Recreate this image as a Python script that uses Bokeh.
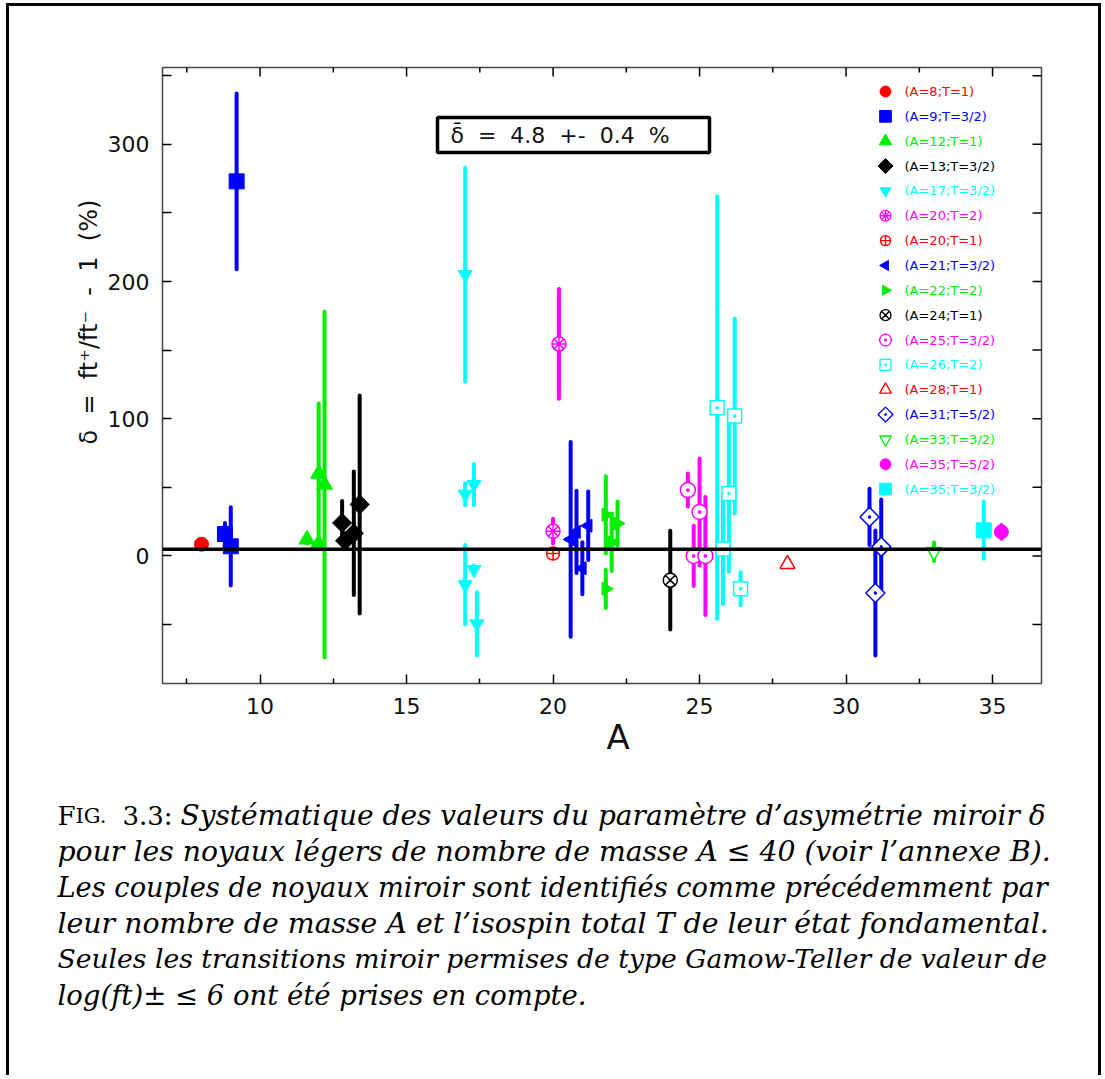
import numpy as np
from bokeh.plotting import figure
from bokeh.layouts import column
from bokeh.models import (ColumnDataSource, Span, Label, BoxAnnotation, FixedTicker, Range1d)
from bokeh.embed import file_html
from bokeh.resources import INLINE

# ---------------- data ----------------
X_RANGE = (6.67, 36.67)
Y_RANGE = (-93.0, 356.0)
X_TICKS = [10, 15, 20, 25, 30, 35]
X_MINOR = [7.5, 12.5, 17.5, 22.5, 27.5, 32.5]
Y_TICKS = [0, 100, 200, 300]
Y_MINOR = [-50, 50, 150, 250, 350]
MEAN_DELTA = 4.8
MEAN_ERR = 0.4

series_labels = ["(A=8;T=1)", "(A=9;T=3/2)", "(A=12;T=1)", "(A=13;T=3/2)", "(A=17;T=3/2)",
                 "(A=20;T=2)", "(A=20;T=1)", "(A=21;T=3/2)", "(A=22;T=2)", "(A=24;T=1)",
                 "(A=25;T=3/2)", "(A=26;T=2)", "(A=28;T=1)", "(A=31;T=5/2)", "(A=33;T=3/2)",
                 "(A=35;T=5/2)", "(A=35;T=3/2)"]

series_A = [
    [8.0],
    [8.8, 9.0, 9.2],
    [11.6, 12.0, 12.0, 12.2],
    [12.8, 12.9, 13.2, 13.4],
    [17.0, 17.0, 17.3, 17.0, 17.3, 17.4],
    [20.2, 20.0],
    [20.0],
    [20.6, 20.8, 21.0, 21.2],
    [21.8, 21.8, 22.0, 22.2],
    [24.0],
    [24.6, 25.0, 24.8, 25.2],
    [25.6, 26.2, 26.0, 25.8, 26.4],
    [28.0],
    [30.8, 31.2, 31.0],
    [33.0],
    [35.3],
    [34.7],
]
series_delta = [
    [8.5],
    [16, 7, 273],
    [12, 60, 9, 52],
    [24, 11, 16.5, 37.5],
    [205, 45, 52, -21, -10, -49.5],
    [154.5, 18],
    [1.7],
    [12, 17.5, -9, 22],
    [30, -24, 10, 23.6],
    [-17.7],
    [48, 32, 0, 0],
    [108, 102, 45.5, 5, -24],
    [-6],
    [28.4, 6.6, -27],
    [3],
    [17.5],
    [18.7],
]
series_err = [
    [3],
    [8, 28.5, 64],
    [3, 51, 3, 126],
    [16, 4, 45, 79.5],
    [78, 8, 15, 29, 3, 23],
    [40, 9],
    [0],
    [71, 30, 19, 25],
    [28, 14, 21, 16],
    [36],
    [12, 39, 22, 43],
    [154, 71, 57, 40, 12],
    [0],
    [20.5, 34.5, 45.5],
    [6.7],
    [5],
    [20.7],
]

# ---------------- styles ----------------
RED, BLUE, GREEN, BLACK, CYAN, MAGENTA = "#ff0000", "#0000ff", "#00ee00", "#000000", "#00ffff", "#ff00ff"
series_colors = [RED, BLUE, GREEN, BLACK, CYAN, MAGENTA, RED, BLUE, GREEN, BLACK,
                 MAGENTA, CYAN, RED, BLUE, GREEN, MAGENTA, CYAN]
# (marker list, angle, filled, size)
series_style = [
    (["circle"], 0, True, 14),
    (["square"], 0, True, 15),
    (["triangle"], 0, True, 16),
    (["square"], np.pi / 4, True, 13.5),
    (["inverted_triangle"], 0, True, 14),
    (["circle", "asterisk"], 0, False, 14),
    (["circle_cross"], 0, False, 13),
    (["triangle"], np.pi / 2, True, 13),
    (["triangle"], -np.pi / 2, True, 13),
    (["circle_x"], 0, False, 14),
    (["circle_dot"], 0, False, 15),
    (["square_dot"], 0, False, 14),
    (["triangle"], 0, False, 15),
    (["square_dot"], np.pi / 4, False, 13.5),
    (["inverted_triangle"], 0, False, 15),
    (["circle"], 0, True, 14),
    (["square"], 0, True, 15),
]

# ---------------- layout constants (pixels) ----------------
W = 1089
MB_L, MB_T = 153, 61
FRAME_W, FRAME_H = 879, 616
MB_R = W - MB_L - FRAME_W
MB_B = 90
H_MAIN = MB_T + FRAME_H + MB_B
H_CAP = 302
PAGE_X0, PAGE_Y0 = 9, 6          # canvas origin on the page
FRAME_LEFT_PAGE = PAGE_X0 + MB_L
FRAME_TOP_PAGE = PAGE_Y0 + MB_T
XPP = (X_RANGE[1] - X_RANGE[0]) / FRAME_W   # data units per pixel
YPP = (Y_RANGE[1] - Y_RANGE[0]) / FRAME_H


def fx(page_x):
    return X_RANGE[0] + (page_x - FRAME_LEFT_PAGE) * XPP


def fy(page_y):
    return Y_RANGE[1] - (page_y - FRAME_TOP_PAGE) * YPP


p = figure(width=W, height=H_MAIN, x_range=Range1d(*X_RANGE), y_range=Range1d(*Y_RANGE),
           output_backend="svg", toolbar_location=None,
           min_border_left=MB_L, min_border_right=MB_R, min_border_top=MB_T, min_border_bottom=MB_B)
p.grid.visible = False
p.outline_line_color = "#444444"
p.outline_line_width = 1.5
p.background_fill_color = "white"
p.border_fill_color = "white"


def style_axis(ax, ticks, minor, minor_len):
    ax.ticker = FixedTicker(ticks=ticks, minor_ticks=minor)
    ax.axis_line_color = None
    ax.major_tick_in = 9
    ax.major_tick_out = 0
    ax.minor_tick_in = minor_len
    ax.minor_tick_out = 0
    ax.major_tick_line_color = "black"
    ax.minor_tick_line_color = "black"
    ax.major_tick_line_width = 1.5
    ax.minor_tick_line_width = 1.5
    ax.major_label_text_font = "DejaVu Sans"
    ax.major_label_text_font_size = "22px"
    ax.major_label_text_color = "#111111"
    ax.axis_label_text_font = "DejaVu Sans"
    ax.axis_label_text_font_style = "normal"
    ax.axis_label_text_color = "#111111"


NB = "\u00a0"
xax = p.xaxis[0]
style_axis(xax, X_TICKS, X_MINOR, 5)
xax.major_label_standoff = 14
xax.axis_label = NB * 3 + "A"
xax.axis_label_text_font_size = "34px"
xax.axis_label_standoff = 0

yax = p.yaxis[0]
style_axis(yax, Y_TICKS, Y_MINOR, 9)
yax.major_label_standoff = 13
yax.axis_label = NB * 14 + f"δ{NB}{NB}={NB}{NB}ft⁺/ft⁻{NB}{NB}-{NB}{NB}1{NB}{NB}(%)"
yax.axis_label_text_font_size = "24px"
yax.axis_label_standoff = 2

# mirrored ticks on the top and right frame edges
top_src = ColumnDataSource(dict(
    x=X_TICKS + X_MINOR,
    y0=[Y_RANGE[1]] * (len(X_TICKS) + len(X_MINOR)),
    y1=[Y_RANGE[1] - 9 * YPP] * len(X_TICKS) + [Y_RANGE[1] - 5 * YPP] * len(X_MINOR)))
p.segment(x0="x", y0="y0", x1="x", y1="y1", source=top_src, line_color="black", line_width=1.5)
right_src = ColumnDataSource(dict(
    y=Y_TICKS + Y_MINOR,
    x0=[X_RANGE[1]] * (len(Y_TICKS) + len(Y_MINOR)),
    x1=[X_RANGE[1] - 9 * XPP] * (len(Y_TICKS) + len(Y_MINOR))))
p.segment(x0="x0", y0="y", x1="x1", y1="y", source=right_src, line_color="black", line_width=1.5)

# mean line
p.add_layout(Span(location=MEAN_DELTA, dimension="width", line_color="black", line_width=3.5))

# error bars
for A, d, e, col in zip(series_A, series_delta, series_err, series_colors):
    A_, d_, e_ = np.array(A, float), np.array(d, float), np.array(e, float)
    keep = e_ > 0
    if keep.any():
        src = ColumnDataSource(dict(x=A_[keep], lo=(d_ - e_)[keep], hi=(d_ + e_)[keep]))
        p.segment(x0="x", y0="lo", x1="x", y1="hi", source=src, line_color=col,
                  line_width=4, line_cap="round")

# markers
for A, d, col, (markers, ang, filled, size) in zip(series_A, series_delta, series_colors, series_style):
    src = ColumnDataSource(dict(x=A, y=d))
    for m in markers:
        p.scatter(x="x", y="y", source=src, marker=m, size=size, angle=ang,
                  fill_color=col if filled else "white",
                  line_color=col, line_width=1.0 if filled else 1.5)

# legend (drawn by hand so that rotated markers and coloured labels match)
LEG_MARK_X = 885
LEG_TEXT_X = 904
LEG_Y0 = 91
LEG_DY = 24.85
LEG_SIZE_SCALE = 0.78
for i, (lab, col, (markers, ang, filled, size)) in enumerate(zip(series_labels, series_colors, series_style)):
    yy = LEG_Y0 + LEG_DY * i
    for m in markers:
        p.scatter(x=[fx(LEG_MARK_X)], y=[fy(yy)], marker=m, size=size * LEG_SIZE_SCALE, angle=ang,
                  fill_color=col if filled else "white", line_color=col,
                  line_width=1.0 if filled else 1.3)
    p.add_layout(Label(x=fx(LEG_TEXT_X), y=fy(yy), text=lab, text_font="DejaVu Sans",
                       text_font_size="13px", text_color=col, text_baseline="middle",
                       text_align="left"))

# mean value box
p.add_layout(BoxAnnotation(left=fx(437), right=fx(709), top=fy(117), bottom=fy(152),
                           fill_alpha=0, line_color="black", line_alpha=1.0, line_width=3.5))
p.add_layout(Label(x=fx(450), y=fy(134.5),
                   text=f"δ\u0304{NB}{NB}={NB}{NB}{MEAN_DELTA}{NB}{NB}+-{NB}{NB}{MEAN_ERR}{NB}{NB}%",
                   text_font="DejaVu Sans", text_font_size="22px", text_baseline="middle",
                   text_align="left", text_color="#111111"))

# ---------------- caption figure ----------------
cap = figure(width=W, height=H_CAP, x_range=Range1d(0, W), y_range=Range1d(0, H_CAP),
             output_backend="svg", toolbar_location=None, min_border=0,
             x_axis_location=None, y_axis_location=None)
try:
    cap.frame_align = False
except Exception:
    pass
cap.grid.visible = False
cap.outline_line_color = None
CAP_TOP_PAGE = PAGE_Y0 + H_MAIN

CAP_FONT = "DejaVu Serif"
cap_base = [815, 851, 886.7, 922.7, 958.3, 994]
cap_sizes = ["28px", "28.3px", "27.25px", "28.35px", "26.6px", "27.5px"]
cap_lines = [
    "Systématique des valeurs du paramètre d’asymétrie miroir δ",
    "pour les noyaux légers de nombre de masse A ≤ 40 (voir l’annexe B).",
    "Les couples de noyaux miroir sont identifiés comme précédemment par",
    "leur nombre de masse A et l’isospin total T de leur état fondamental.",
    "Seules les transitions miroir permises de type Gamow-Teller de valeur de",
    "log(ft)± ≤ 6 ont été prises en compte.",
]


def cap_label(text, x_page, y_page, size, style="italic"):
    cap.add_layout(Label(x=x_page - PAGE_X0, y=H_CAP - (y_page - CAP_TOP_PAGE), text=text,
                         text_font=CAP_FONT, text_font_size=size, text_font_style=style,
                         text_align="left", text_baseline="alphabetic", text_color="black"))


cap_label("F", 57, cap_base[0], "26px", style="normal")
cap_label("IG.", 75, cap_base[0], "21px", style="normal")
cap_label("3.3:", 122, cap_base[0], "26px", style="normal")
cap_label(cap_lines[0], 180, cap_base[0], cap_sizes[0])
for line, yb, sz in zip(cap_lines[1:], cap_base[1:], cap_sizes[1:]):
    cap_label(line, 57, yb, sz)

layout = column(p, cap, spacing=0)
layout.styles = {"border-top": "3px solid black", "border-left": "3px solid black",
                 "border-right": "3px solid black", "box-sizing": "content-box",
                 "margin-left": "6px", "margin-top": "3px"}

open("out.html", "w").write(file_html(layout, INLINE))
